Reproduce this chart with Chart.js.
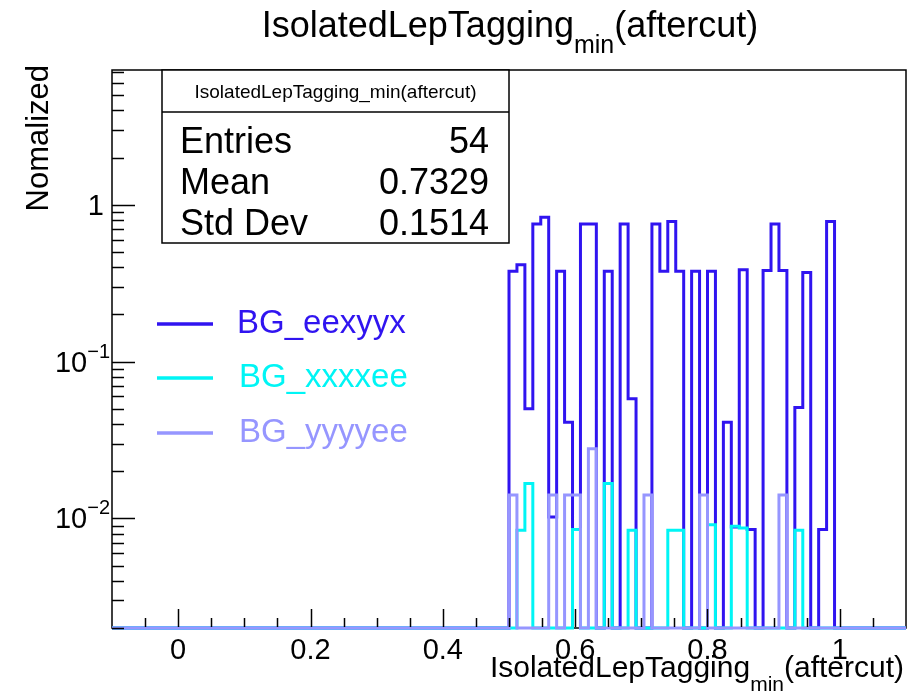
<!DOCTYPE html>
<html lang="en">
<head>
<meta charset="UTF-8">
<title>IsolatedLepTagging_min (aftercut)</title>
<script src="https://cdn.jsdelivr.net/npm/chart.js"></script>
<style>
  body { margin: 0; background: #fff; }
</style>
</head>
<body>
<canvas id="histChart" width="921" height="693"></canvas>
<script>
// histogram binning: 100 bins from -0.1 to 1.1
const X_MIN = -0.1;
const X_MAX = 1.1;
const N_BINS = 100;
const FIRST_FILLED_BIN = 50;   // bin starting at x = 0.5

// normalized bin contents, one per bin starting at x = 0.5 (0 = empty)
const eexyyx = [0.377, 0.415, 0.050, 0.754, 0.835, 0.0102, 0.377, 0.041, 0.0085, 0.754,
                0.754, 0, 0.377, 0, 0.754, 0.058, 0, 0, 0.754, 0.377,
                0.783, 0.377, 0, 0.377, 0, 0.377, 0, 0.041, 0.0088, 0.386,
                0.0085, 0, 0.381, 0.754, 0.381, 0, 0.051, 0.370, 0, 0.0085,
                0.783];
const xxxxee = [0, 0.0084, 0.0167, 0, 0, 0, 0, 0, 0.0085, 0,
                0, 0, 0.0167, 0, 0, 0.0084, 0, 0, 0, 0,
                0.0084, 0.0084, 0, 0, 0, 0.0091, 0, 0, 0.0089, 0.0087,
                0, 0, 0, 0, 0, 0, 0.0084, 0, 0, 0,
                0];
const yyyyee = [0.0141, 0, 0, 0, 0, 0.0141, 0, 0.0141, 0.0141, 0,
                0.0278, 0, 0, 0, 0, 0, 0, 0.0141, 0, 0,
                0, 0, 0, 0, 0.0141, 0, 0, 0, 0, 0,
                0, 0, 0, 0, 0.0141, 0, 0, 0, 0, 0,
                0];

const seriesNames = ["BG_eexyyx", "BG_xxxxee", "BG_yyyyee"];

const Y_MIN = 0.002;
const Y_MAX = 7.25;

const xMajorTicks = [0, 0.2, 0.4, 0.6, 0.8, 1];
const xTickLabels = ["0", "0.2", "0.4", "0.6", "0.8", "1"];
const yMajorTicks = [0.01, 0.1, 1];
const yTickLabels = [["10", "\u22122"], ["10", "\u22121"], ["1", ""]];

const statsTitle = "IsolatedLepTagging_min(aftercut)";
const statsLabels = ["Entries", "Mean", "Std Dev"];
const statsValues = ["54", "0.7329", "0.1514"];

const COLORS = ["rgb(48,20,240)", "rgb(0,245,245)", "rgb(150,150,255)"];
const FONT = "'Liberation Sans', Arial, Helvetica, sans-serif";

// turn bin contents into step points (empty bins sit on the frame bottom)
function histPoints(values) {
    const width = (X_MAX - X_MIN) / N_BINS;
    let pts = [];
    for (let i = 0; i < N_BINS; i++) {
        let k = i - FIRST_FILLED_BIN;
        let v = (k >= 0 && k < values.length) ? values[k] : 0;
        pts.push({ x: X_MIN + i * width, y: Math.max(v, Y_MIN) });
    }
    pts.push({ x: X_MAX, y: pts[pts.length - 1].y });
    return pts;
}

// text with a subscript part, e.g. Tagging_{min}
function drawSubText(ctx, parts, x, y, size, align) {
    let subSize = Math.round(size * 0.7);
    let widths = parts.map((p, i) => {
        ctx.font = (i === 1 ? subSize : size) + "px " + FONT;
        return ctx.measureText(p).width;
    });
    let total = widths.reduce((a, b) => a + b, 0);
    let cx = align === "center" ? x - total / 2 : (align === "right" ? x - total : x);
    ctx.textAlign = "left";
    ctx.textBaseline = "alphabetic";
    parts.forEach((p, i) => {
        ctx.font = (i === 1 ? subSize : size) + "px " + FONT;
        ctx.fillText(p, cx, i === 1 ? y + size * 0.45 : y);
        cx += widths[i];
    });
}

const rootStyle = {
    id: "rootStyle",
    beforeDatasetsDraw(chart) {
        // frame goes under the histograms
        const ctx = chart.ctx;
        const area = chart.chartArea;
        ctx.save();
        ctx.strokeStyle = "#000";
        ctx.lineWidth = 1.5;
        ctx.strokeRect(area.left, area.top, area.right - area.left, area.bottom - area.top);
        ctx.restore();
    },
    afterDraw(chart) {
        const ctx = chart.ctx;
        const area = chart.chartArea;
        const xs = chart.scales.x;
        const ys = chart.scales.y;
        ctx.save();
        ctx.strokeStyle = "#000";
        ctx.fillStyle = "#000";

        // x ticks (inside the frame)
        ctx.lineWidth = 1.5;
        for (let t = -0.05; t <= 1.06; t += 0.05) {
            let v = Math.round(t * 100) / 100;
            let px = Math.round(xs.getPixelForValue(v)) + 0.5;
            let major = Math.abs(v / 0.2 - Math.round(v / 0.2)) < 1e-6;
            ctx.beginPath();
            ctx.moveTo(px, area.bottom - 1);
            ctx.lineTo(px, area.bottom - (major ? 19 : 10));
            ctx.stroke();
        }
        // y ticks (log)
        for (let d = -3; d <= 0; d++) {
            for (let m = 1; m <= 9; m++) {
                let v = m * Math.pow(10, d);
                if (v < Y_MIN || v > Y_MAX) continue;
                let py = Math.round(ys.getPixelForValue(v)) + 0.5;
                ctx.beginPath();
                ctx.moveTo(area.left, py);
                ctx.lineTo(area.left + (m === 1 ? 23 : 12), py);
                ctx.stroke();
            }
        }

        // x tick labels
        ctx.font = "29px " + FONT;
        ctx.textAlign = "center";
        ctx.textBaseline = "alphabetic";
        xMajorTicks.forEach((v, i) => {
            ctx.fillText(xTickLabels[i], xs.getPixelForValue(v), 659);
        });

        // y tick labels with superscript exponents
        yMajorTicks.forEach((v, i) => {
            let py = ys.getPixelForValue(v);
            let [base, exp] = yTickLabels[i];
            ctx.font = "20px " + FONT;
            let ew = exp ? ctx.measureText(exp).width : 0;
            let right = exp ? 110 : 104;
            ctx.textAlign = "right";
            if (exp) ctx.fillText(exp, right, py - 4);
            ctx.font = "29px " + FONT;
            ctx.fillText(base, right - ew, py + 10);
        });

        // axis titles
        drawSubText(ctx, ["IsolatedLepTagging", "min", "(aftercut)"], area.right - 2, 677, 30, "right");
        ctx.save();
        ctx.translate(39, 65);
        ctx.rotate(-Math.PI / 2);
        ctx.font = "31px " + FONT;
        ctx.textAlign = "right";
        ctx.textBaseline = "middle";
        ctx.fillText("Nomalized", 0, 0);
        ctx.restore();

        // main title
        drawSubText(ctx, ["IsolatedLepTagging", "min", "(aftercut)"], (area.left + area.right) / 2 + 1, 37, 36, "center");

        // stats box
        let bx = 162, by = 70, bw = 347, bh = 173;
        ctx.fillStyle = "#fff";
        ctx.fillRect(bx, by, bw, bh);
        ctx.fillStyle = "#000";
        ctx.lineWidth = 1.5;
        ctx.strokeRect(bx, by, bw, bh);
        ctx.beginPath();
        ctx.moveTo(bx, 112);
        ctx.lineTo(bx + bw, 112);
        ctx.stroke();
        ctx.font = "19px " + FONT;
        ctx.textAlign = "center";
        ctx.fillText(statsTitle, bx + bw / 2, 98);
        ctx.font = "36px " + FONT;
        statsLabels.forEach((lab, i) => {
            let base = 153 + i * 41;
            ctx.textAlign = "left";
            ctx.fillText(lab, 180, base);
            ctx.textAlign = "right";
            ctx.fillText(statsValues[i], 489, base);
        });

        // legend
        let legendY = [324, 378, 433];
        let legendTextX = [237, 239, 239];
        seriesNames.forEach((name, i) => {
            ctx.strokeStyle = COLORS[i];
            ctx.lineWidth = 3.5;
            ctx.beginPath();
            ctx.moveTo(157, legendY[i]);
            ctx.lineTo(213, legendY[i]);
            ctx.stroke();
            ctx.fillStyle = COLORS[i];
            ctx.font = "33px " + FONT;
            ctx.textAlign = "left";
            ctx.textBaseline = "middle";
            ctx.fillText(name, legendTextX[i], legendY[i]);
        });
        ctx.restore();
    }
};

const ctx = document.getElementById("histChart").getContext("2d");
const seriesData = [eexyyx, xxxxee, yyyyee];
new Chart(ctx, {
    type: "line",
    data: {
        datasets: seriesData.map((vals, i) => ({
            label: seriesNames[i],
            data: histPoints(vals),
            borderColor: COLORS[i],
            borderWidth: 3,
            stepped: "before",
            pointRadius: 0,
            fill: false,
            clip: 3,
            order: 3 - i
        }))
    },
    options: {
        responsive: false,
        animation: false,
        layout: { padding: { left: 112, right: 15, top: 70, bottom: 65 } },
        scales: {
            x: { type: "linear", min: X_MIN, max: X_MAX, display: false },
            y: { type: "logarithmic", min: Y_MIN, max: Y_MAX, display: false }
        },
        plugins: {
            legend: { display: false },
            tooltip: { enabled: false },
            title: { display: false }
        }
    },
    plugins: [rootStyle]
});
</script>
</body>
</html>
